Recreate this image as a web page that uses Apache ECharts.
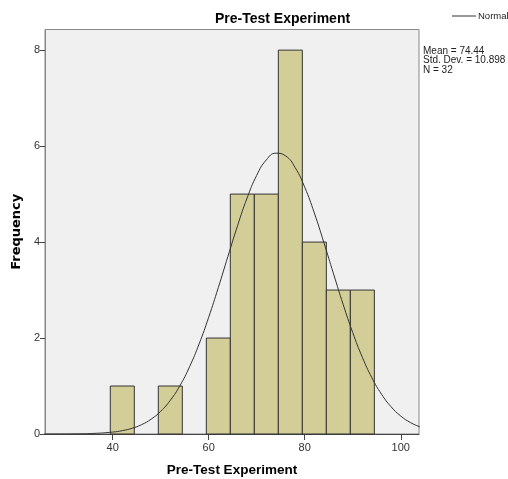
<!DOCTYPE html>
<html>
<head>
<meta charset="utf-8">
<script src="https://cdn.jsdelivr.net/npm/echarts@6/dist/echarts.min.js"></script>
<style>
  html, body { margin: 0; padding: 0; background: #fff; }
  #chart { width: 508px; height: 479px; }
</style>
</head>
<body>
<div id="chart"></div>
<script>
// histogram bins (lower / upper edge) and frequencies
var binLower = [39.5, 49.5, 59.5, 64.5, 69.5, 74.5, 79.5, 84.5, 89.5];
var binUpper = [44.5, 54.5, 64.5, 69.5, 74.5, 79.5, 84.5, 89.5, 94.5];
var counts = [1, 1, 2, 5, 5, 8, 4, 3, 3];

// normal curve
var curveX = [24, 28, 32, 36, 40, 42, 44, 46, 48, 50, 52, 54, 56, 58, 60, 62, 64, 66, 68, 70,
  72, 74, 76, 78, 80, 82, 84, 86, 88, 90, 92, 94, 96, 98, 100, 102, 104];
var curveY = [0.0001, 0.0007, 0.003, 0.012, 0.04, 0.07, 0.118, 0.194, 0.309, 0.473, 0.702, 1.007,
  1.399, 1.877, 2.434, 3.052, 3.701, 4.339, 4.919, 5.391, 5.712, 5.852, 5.797, 5.552, 5.142,
  4.605, 3.986, 3.337, 2.701, 2.113, 1.599, 1.17, 0.828, 0.566, 0.374, 0.24, 0.148];

var xTicks = [40, 60, 80, 100];
var yTicks = [0, 2, 4, 6, 8];
var stats = ['Mean = 74.44', 'Std. Dev. = 10.898', 'N = 32'];

var font = 'Liberation Sans, Arial, sans-serif';

var barData = binLower.map(function (lo, i) {
  return [lo, binUpper[i], counts[i]];
});
var lineData = curveX.map(function (x, i) {
  return [x, curveY[i]];
});

var chart = echarts.init(document.getElementById('chart'), null, { renderer: 'canvas' });

chart.setOption({
  animation: false,
  backgroundColor: '#fff',
  title: {
    text: 'Pre-Test Experiment',
    left: 210,
    top: 7,
    textStyle: { fontFamily: font, fontSize: 14, fontWeight: 'bold', color: '#000' }
  },
  legend: {
    left: 452,
    top: 11,
    padding: 0,
    itemWidth: 24,
    itemHeight: 8,
    data: [{ name: 'Normal', icon: 'path://M0,0 L24,0 L24,1 L0,1 Z' }],
    textStyle: { fontFamily: font, fontSize: 9.5, color: '#222', padding: [0, 0, 0, -3] },
    itemStyle: { color: '#333' }
  },
  graphic: [{
    type: 'text',
    left: 423,
    top: 46,
    style: {
      text: stats.join('\n'),
      fontFamily: font,
      fontSize: 10,
      lineHeight: 9.5,
      fill: '#222'
    }
  }],
  grid: {
    left: 45,
    top: 29.5,
    right: 89,
    bottom: 45,
    containLabel: false,
    outerBoundsMode: 'none',
    show: true,
    backgroundColor: '#f0f0f0',
    borderColor: '#888',
    borderWidth: 1
  },
  xAxis: {
    type: 'value',
    min: 25.9,
    max: 103.8,
    name: 'Pre-Test Experiment',
    nameLocation: 'middle',
    nameGap: 29,
    nameTextStyle: { fontFamily: font, fontSize: 13.5, fontWeight: 'bold', color: '#000' },
    axisLine: { show: true, lineStyle: { color: '#444', width: 1 } },
    axisTick: { show: true, length: 6, customValues: xTicks, lineStyle: { color: '#444' } },
    axisLabel: { customValues: xTicks, fontFamily: font, fontSize: 11, color: '#333', margin: 8 },
    splitLine: { show: false }
  },
  yAxis: {
    type: 'value',
    min: 0,
    max: 8.43,
    name: 'Frequency',
    nameLocation: 'middle',
    nameGap: 17,
    nameTextStyle: { fontFamily: 'DejaVu Sans', fontSize: 13, fontWeight: 'bold', color: '#000' },
    axisLine: { show: true, lineStyle: { color: '#888', width: 1 } },
    axisTick: { show: true, length: 5, customValues: yTicks, lineStyle: { color: '#444' } },
    axisLabel: { customValues: yTicks, fontFamily: font, fontSize: 11, color: '#333', margin: 5 },
    splitLine: { show: false }
  },
  series: [{
    name: 'Frequency',
    type: 'custom',
    renderItem: function (params, api) {
      var p0 = api.coord([api.value(0), api.value(2)]);
      var p1 = api.coord([api.value(1), 0]);
      return {
        type: 'rect',
        shape: { x: p0[0], y: p0[1], width: p1[0] - p0[0], height: p1[1] - p0[1] },
        style: { fill: '#d3ce98', stroke: '#333', lineWidth: 1 }
      };
    },
    encode: { x: [0, 1], y: 2 },
    data: barData,
    z: 2
  }, {
    name: 'Normal',
    type: 'line',
    data: lineData,
    smooth: true,
    showSymbol: false,
    symbol: 'none',
    clip: true,
    lineStyle: { color: '#333', width: 1 },
    itemStyle: { color: '#333' },
    z: 3
  }]
});
</script>
</body>
</html>
